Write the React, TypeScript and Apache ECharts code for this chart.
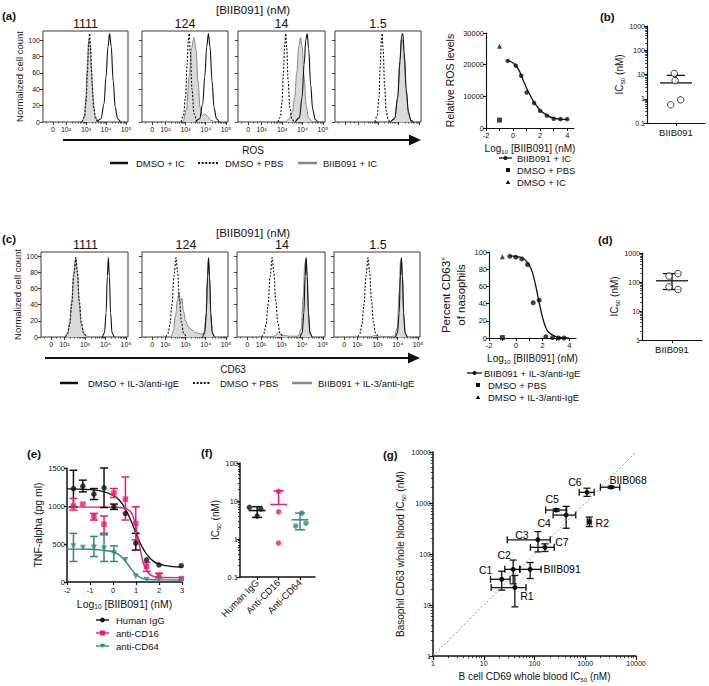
import React, { useEffect, useRef } from "react";
import * as echarts from "echarts";

const FONT = "'Liberation Sans', Arial, Helvetica, sans-serif";
const INK = "#111111";
const PINK = "#ec1c73";
const TEAL = "#2f8c7c";
const GRAY_LINE = "#8b8580";
const GRAY_FILL = "#dadada";

// ---------- (a)/(c) flow histograms; x in biexponential display units (1.35 = 0, 2 = 10², 3 = 10³ …)
const concentrationLabels = ["1111", "124", "14", "1.5"];
const flowTickValues = [1.35, 2, 3, 4, 5];
const flowTickLabels = ["0", "10²", "10³", "10⁴", "10⁵"];
const histYTicks = [0, 20, 40, 60, 80, 100];

const rosDmsoPbs = [
  [[2.8, 0], [2.92, 6], [3.0, 25], [3.07, 60], [3.13, 95], [3.18, 108], [3.23, 90], [3.3, 50], [3.38, 18], [3.48, 4], [3.58, 0]],
  [[2.78, 0], [2.9, 8], [3.0, 30], [3.08, 70], [3.14, 100], [3.18, 108], [3.24, 85], [3.32, 40], [3.42, 10], [3.55, 0]],
  [[2.8, 0], [2.92, 6], [3.0, 25], [3.07, 60], [3.13, 95], [3.18, 108], [3.23, 90], [3.3, 50], [3.38, 18], [3.48, 4], [3.58, 0]],
  [[2.82, 0], [2.94, 8], [3.02, 30], [3.09, 70], [3.14, 100], [3.18, 108], [3.23, 88], [3.3, 45], [3.38, 14], [3.48, 3], [3.56, 0]],
];
const rosBiibIc = [
  [[2.82, 0], [2.93, 8], [3.0, 30], [3.07, 70], [3.14, 100], [3.2, 95], [3.27, 65], [3.35, 30], [3.45, 8], [3.58, 0]],
  [[2.9, 0], [3.05, 15], [3.18, 55], [3.3, 90], [3.42, 103], [3.52, 88], [3.62, 50], [3.72, 18], [3.82, 8], [3.95, 10], [4.08, 7], [4.25, 2], [4.45, 0]],
  [[3.2, 0], [3.35, 4], [3.5, 12], [3.62, 30], [3.72, 60], [3.82, 92], [3.9, 103], [3.98, 92], [4.08, 55], [4.18, 20], [4.3, 5], [4.45, 0]],
  [[3.6, 0], [3.8, 5], [3.95, 30], [4.05, 70], [4.13, 100], [4.2, 100], [4.28, 75], [4.38, 35], [4.48, 10], [4.6, 0]],
];
const rosDmsoIc = [
  [[3.55, 0], [3.75, 4], [3.9, 22], [4.0, 55], [4.1, 92], [4.18, 108], [4.26, 92], [4.36, 50], [4.46, 18], [4.58, 4], [4.72, 0]],
  [[3.5, 0], [3.7, 4], [3.85, 22], [3.95, 55], [4.05, 92], [4.13, 108], [4.21, 92], [4.31, 50], [4.41, 18], [4.53, 4], [4.67, 0]],
  [[3.65, 0], [3.85, 5], [3.98, 30], [4.08, 70], [4.16, 100], [4.23, 108], [4.3, 90], [4.4, 45], [4.5, 15], [4.62, 3], [4.75, 0]],
  [[3.6, 0], [3.8, 4], [3.95, 30], [4.06, 75], [4.14, 105], [4.2, 108], [4.27, 85], [4.37, 40], [4.48, 12], [4.6, 2], [4.72, 0]],
];

const cd63DmsoPbs = [
  [[2.05, 0], [2.15, 4], [2.25, 15], [2.35, 40], [2.45, 75], [2.55, 98], [2.63, 80], [2.72, 45], [2.82, 18], [2.92, 5], [3.05, 0]],
  [[2.03, 0], [2.13, 4], [2.23, 15], [2.33, 40], [2.43, 75], [2.53, 98], [2.61, 80], [2.7, 45], [2.8, 18], [2.9, 5], [3.03, 0]],
  [[2.05, 0], [2.15, 4], [2.25, 15], [2.35, 40], [2.45, 75], [2.55, 98], [2.63, 80], [2.72, 45], [2.82, 18], [2.92, 5], [3.05, 0]],
  [[2.03, 0], [2.13, 4], [2.23, 15], [2.33, 40], [2.43, 75], [2.53, 98], [2.61, 80], [2.7, 45], [2.8, 18], [2.9, 5], [3.03, 0]],
];
const cd63BiibIge = [
  [[2.05, 0], [2.15, 5], [2.25, 18], [2.35, 45], [2.45, 80], [2.55, 98], [2.63, 78], [2.72, 40], [2.82, 15], [2.95, 4], [3.1, 0]],
  [[2.3, 0], [2.4, 8], [2.5, 25], [2.6, 45], [2.68, 55], [2.75, 42], [2.82, 48], [2.9, 32], [3.0, 20], [3.15, 12], [3.35, 8], [3.55, 5], [3.75, 4], [3.9, 4], [4.0, 20], [4.07, 65], [4.13, 95], [4.19, 70], [4.26, 20], [4.35, 3], [4.45, 0]],
  [[2.6, 0], [2.72, 2], [2.82, 5], [2.88, 6], [2.95, 4], [3.1, 2], [3.4, 1], [3.8, 1], [3.95, 10], [4.05, 50], [4.12, 90], [4.18, 97], [4.24, 75], [4.31, 25], [4.39, 4], [4.48, 0]],
  [[2.6, 0], [2.75, 1], [2.86, 2], [3.0, 1], [3.5, 0.5], [3.85, 1], [3.98, 12], [4.07, 55], [4.13, 92], [4.18, 97], [4.24, 72], [4.31, 22], [4.39, 3], [4.48, 0]],
];
const cd63DmsoIge = [
  [[3.85, 0], [3.95, 5], [4.03, 30], [4.09, 75], [4.14, 98], [4.19, 75], [4.25, 30], [4.32, 5], [4.42, 0]],
  [[3.85, 0], [3.95, 5], [4.03, 30], [4.09, 75], [4.14, 98], [4.19, 75], [4.25, 30], [4.32, 5], [4.42, 0]],
  [[3.9, 0], [4.0, 5], [4.08, 30], [4.14, 75], [4.19, 98], [4.24, 75], [4.3, 30], [4.37, 5], [4.47, 0]],
  [[3.89, 0], [3.99, 5], [4.07, 30], [4.13, 75], [4.18, 98], [4.23, 75], [4.29, 30], [4.36, 5], [4.46, 0]],
];

// ---------- (a) right: ROS dose response
const rosDoseLog = [-0.4, 0.2, 0.6, 1.0, 1.55, 2.0, 2.5, 3.0, 3.5, 4.0];
const rosDoseValues = [21200, 19700, 16500, 11200, 7900, 5400, 3900, 2900, 2800, 2800];
const rosFitCurve = [[-0.4, 21300], [0, 20500], [0.4, 18500], [0.8, 14500], [1.2, 10800], [1.6, 7800], [2.0, 5600], [2.5, 4000], [3, 3100], [3.5, 2800], [4, 2700]];
const rosPbsPoint = [[-1, 2500]];
const rosIcPoint = [[-1, 25800]];

// ---------- (b) ROS IC50
const rosIc50 = [11, 5.6, 0.56, 0.9];
const rosIc50Jitter = [-0.06, -0.03, -0.18, 0.16];
const rosIc50Mean = 4.5;
const rosIc50SdHigh = 9.2;

// ---------- (c) right: CD63 dose response
const cd63DoseLog = [-0.45, 0.0, 0.45, 0.88, 1.3, 1.75, 2.25, 2.75, 3.2, 3.6];
const cd63DoseValues = [95, 94, 92, 85.5, 41, 44, 1.5, 0.5, 0, 0];
const cd63FitCurve = [[-0.45, 95.5], [0, 95], [0.5, 93], [0.75, 90], [1.0, 85], [1.25, 76], [1.5, 60], [1.75, 41], [2.0, 24], [2.25, 12], [2.5, 6], [3.0, 1.5], [3.5, 0.3], [4, 0]];
const cd63PbsPoint = [[-1, 0.5]];
const cd63IgePoint = [[-1, 94.5]];

// ---------- (d) CD63 IC50
const cd63Ic50 = [160, 195, 68, 55];
const cd63Ic50Jitter = [-0.1, 0.2, -0.1, 0.2];
const cd63Ic50Mean = 110;
const cd63Ic50Sd = [55, 195];

// ---------- (e) TNF-alpha
const tnfLogDose = [-1.72, -1.31, -0.83, -0.39, 0.04, 0.54, 0.99, 1.46, 2.0, 2.97];
const tnfHumanIgG = [1230, 1260, 1155, 1240, 990, 900, 510, 292, 225, 215];
const tnfHumanIgGLow = [990, 1185, 1085, 980, 955, null, 420, null, null, null];
const tnfHumanIgGHigh = [1470, 1340, 1230, 1500, 1025, null, 640, null, null, null];
const tnfAntiCD16 = [1000, 1025, 860, 760, 1170, 1090, 770, 205, 87, 45];
const tnfAntiCD16Low = [946, null, 815, 641, 1112, 815, 555, 140, 55, null];
const tnfAntiCD16High = [1100, null, 903, 868, 1230, 1382, 990, 257, 115, null];
const tnfAntiCD64 = [470, 450, 455, 440, 380, 290, 75, 30, 28, 25];
const tnfAntiCD64Low = [270, null, 335, 270, 270, null, null, null, null, null];
const tnfAntiCD64High = [640, null, 600, 620, 475, null, null, null, null, null];
const tnfFitHumanIgG = [[-2, 1225], [-1.5, 1222], [-1, 1215], [-0.5, 1195], [0, 1140], [0.3, 1070], [0.5, 980], [0.75, 830], [1.0, 640], [1.25, 470], [1.5, 350], [1.75, 275], [2.0, 235], [2.5, 205], [3, 198]];
const tnfFitAntiCD16 = [[-2, 985], [-1, 985], [0, 983], [0.5, 970], [0.75, 930], [0.9, 840], [1.0, 720], [1.1, 560], [1.2, 400], [1.3, 270], [1.45, 160], [1.6, 100], [1.8, 70], [2.2, 60], [3, 58]];
const tnfFitAntiCD64 = [[-2, 432], [-1, 430], [-0.5, 420], [0, 395], [0.25, 360], [0.5, 290], [0.7, 210], [0.9, 130], [1.1, 75], [1.3, 45], [1.6, 32], [2, 28], [3, 27]];

// ---------- (f) IC50 by blocking antibody
const fCategories = ["Human IgG", "Anti-CD16", "Anti-CD64"];
const fHumanIgG = [6.8, 6.2, 4.0];
const fAntiCD16 = [18, 5.2, 0.78];
const fAntiCD64 = [2.2, 2.6, 4.8];
const fMeans = [5.6, 8.1, 3.2];
const fSdLow = [3.7, null, 1.75];
const fSdHigh = [7.1, 18.5, 4.8];
const fJitter = [[-0.36, 0.17, 0.0], [0, 0, 0], [-0.2, 0.28, 0.08]];

// ---------- (g) whole blood IC50 comparison
const gNames = ["C1", "C2", "R1", "BIIB091", "C3", "C7", "C4", "C5", "C6", "BIIB068", "R2"];
const gBcell = [22.6, 38, 41, 82, 117, 161, 420, 268, 1080, 3230, 1200];
const gBcellLow = [13.6, 26, 14, 51, 29, 83, 233, 166, 760, 1990, 1100];
const gBcellHigh = [33, 52, 68, 135, 205, 245, 650, 430, 1500, 4780, 1300];
const gBasophil = [32, 50, 22, 50, 190, 135, 580, 727, 1620, 2040, 430];
const gBasophilLow = [19.6, 26, 9.2, 33, 110, 112, 320, 690, 1350, 1950, 345];
const gBasophilHigh = [46, 76, 38, 68, 275, 158, 860, 770, 1950, 2140, 530];
const gLabelOffsets = [[-16, -9], [-9, -14], [12, 8], [32, 0], [-16, -5], [17, -5], [-22, 8], [-4, -11], [-12, -10], [17, -7], [13, 1]];

// ---------------------------------------------------------------------------
function buildOption() {
  const grid: any[] = [];
  const xAxis: any[] = [];
  const yAxis: any[] = [];
  const series: any[] = [];
  const graphic: any[] = [];

  const lbl = (size: number, extra: any = {}) => ({ fontSize: size, fontFamily: FONT, color: INK, ...extra });
  const addGrid = (left: number, top: number, width: number, height: number, extra: any = {}) => {
    grid.push({ left, top, width, height, containLabel: false, outerBoundsMode: "none", ...extra });
    return grid.length - 1;
  };
  const addX = (cfg: any) => { xAxis.push({ splitLine: { show: false }, ...cfg }); return xAxis.length - 1; };
  const addY = (cfg: any) => { yAxis.push({ splitLine: { show: false }, ...cfg }); return yAxis.length - 1; };
  const nameStyle = (size: number) => ({ fontSize: size, fontFamily: FONT, color: INK, rich: { sub: { fontSize: size * 0.62, fontFamily: FONT, color: INK, padding: [size * 0.5, 0, 0, 0] } } });
  const axisLine = (w = 1) => ({ show: true, onZero: false, lineStyle: { color: INK, width: w } });
  const numFmt = (v: number) => `${+(+v).toPrecision(6)}`;

  const logMinorPositions = (lo: number, hi: number) => {
    const out: number[] = [];
    for (let e = lo; e < hi; e++) for (let m = 2; m <= 9; m++) out.push(e + Math.log10(m));
    return out;
  };

  // Minor tick helper axis drawn on a linear scale in log10 space
  const minorLogAxis = (gi: number, dim: "x" | "y", lo: number, hi: number, len = 2) => {
    const cfg = {
      gridIndex: gi, type: "value", min: lo, max: hi, position: dim === "x" ? "bottom" : "left",
      axisLine: { show: false, onZero: false }, axisLabel: { show: false },
      axisTick: { show: true, length: len, customValues: logMinorPositions(lo, hi), lineStyle: { color: INK, width: 0.8 } },
    };
    return dim === "x" ? addX(cfg) : addY(cfg);
  };

  // ----- text helper
  const text = (s: string, x: number, y: number, size: number, opts: any = {}) => {
    graphic.push({
      type: "text", x, y, silent: true,
      style: { text: s, fill: INK, fontSize: size, fontFamily: FONT, fontWeight: opts.bold ? "bold" : "normal", textAlign: opts.align || "left", textVerticalAlign: "middle", align: opts.align || "left", verticalAlign: "middle" },
    });
  };
  const hline = (x1: number, x2: number, y: number, color: string, width: number, dash?: number[]) => {
    graphic.push({ type: "line", silent: true, shape: { x1, y1: y, x2, y2: y }, style: { stroke: color, lineWidth: width, lineDash: dash || null } });
  };
  const circleMark = (cx: number, cy: number, r: number, color: string) => graphic.push({ type: "circle", silent: true, shape: { cx, cy, r }, style: { fill: color } });
  const squareMark = (cx: number, cy: number, s: number, color: string) => graphic.push({ type: "rect", silent: true, shape: { x: cx - s / 2, y: cy - s / 2, width: s, height: s }, style: { fill: color } });
  const triMark = (cx: number, cy: number, s: number, color: string, down = false) => {
    const h = s * 0.9;
    const pts = down
      ? [[cx - s / 2, cy - h / 2], [cx + s / 2, cy - h / 2], [cx, cy + h / 2]]
      : [[cx - s / 2, cy + h / 2], [cx + s / 2, cy + h / 2], [cx, cy - h / 2]];
    graphic.push({ type: "polygon", silent: true, shape: { points: pts }, style: { fill: color } });
  };
  const arrow = (x1: number, x2: number, y: number) => {
    hline(x1, x2 - 8, y, INK, 2);
    graphic.push({ type: "polygon", silent: true, shape: { points: [[x2 - 12, y - 5.5], [x2, y], [x2 - 12, y + 5.5]] }, style: { fill: INK } });
  };

  // ----- renderers
  const vErr = (color: string, cap: number, lw = 1.3) => (_p: any, api: any) => {
    const x = api.value(0), lo = api.value(1), hi = api.value(2);
    const a = api.coord([x, lo]), b = api.coord([x, hi]);
    const style = { stroke: color, lineWidth: lw, fill: "none" };
    return {
      type: "group", children: [
        { type: "line", shape: { x1: a[0], y1: a[1], x2: b[0], y2: b[1] }, style },
        { type: "line", shape: { x1: a[0] - cap, y1: a[1], x2: a[0] + cap, y2: a[1] }, style },
        { type: "line", shape: { x1: b[0] - cap, y1: b[1], x2: b[0] + cap, y2: b[1] }, style },
      ],
    };
  };
  const meanSd = (color: string, halfMean: number, halfCap: number, lw = 1.3) => (_p: any, api: any) => {
    const x = api.value(0), m = api.value(1), lo = api.value(2), hi = api.value(3);
    const c = api.coord([x, m]);
    const style = { stroke: color, lineWidth: lw, fill: "none" };
    const ch: any[] = [{ type: "line", shape: { x1: c[0] - halfMean, y1: c[1], x2: c[0] + halfMean, y2: c[1] }, style }];
    if (hi > m) {
      const h = api.coord([x, hi]);
      ch.push({ type: "line", shape: { x1: c[0], y1: c[1], x2: h[0], y2: h[1] }, style });
      ch.push({ type: "line", shape: { x1: h[0] - halfCap, y1: h[1], x2: h[0] + halfCap, y2: h[1] }, style });
    }
    if (lo < m && lo > 0) {
      const l = api.coord([x, lo]);
      ch.push({ type: "line", shape: { x1: c[0], y1: c[1], x2: l[0], y2: l[1] }, style });
      ch.push({ type: "line", shape: { x1: l[0] - halfCap, y1: l[1], x2: l[0] + halfCap, y2: l[1] }, style });
    }
    return { type: "group", children: ch };
  };
  const crossErr = (color: string, cap: number, lw = 1.2) => (_p: any, api: any) => {
    const x = api.value(0), y = api.value(1);
    const xl = api.coord([api.value(2), y]), xh = api.coord([api.value(3), y]);
    const yl = api.coord([x, api.value(4)]), yh = api.coord([x, api.value(5)]);
    const style = { stroke: color, lineWidth: lw, fill: "none" };
    return {
      type: "group", children: [
        { type: "line", shape: { x1: xl[0], y1: xl[1], x2: xh[0], y2: xh[1] }, style },
        { type: "line", shape: { x1: xl[0], y1: xl[1] - cap, x2: xl[0], y2: xl[1] + cap }, style },
        { type: "line", shape: { x1: xh[0], y1: xh[1] - cap, x2: xh[0], y2: xh[1] + cap }, style },
        { type: "line", shape: { x1: yl[0], y1: yl[1], x2: yh[0], y2: yh[1] }, style },
        { type: "line", shape: { x1: yl[0] - cap, y1: yl[1], x2: yl[0] + cap, y2: yl[1] }, style },
        { type: "line", shape: { x1: yh[0] - cap, y1: yh[1], x2: yh[0] + cap, y2: yh[1] }, style },
      ],
    };
  };

  // ===================== Histogram rows (a) and (c)
  const flowMinor: number[] = [1.0, 1.6, 1.8];
  for (let d = 2; d < 5; d++) for (let m = 2; m <= 9; m++) flowMinor.push(d + Math.log10(m));

  const flowPanel = (left: number, top: number, width: number, height: number, yMax: number, idx: number, showX: boolean,
    fill: number[][], dotted: number[][], solid: number[][], names: string[]) => {
    const gi = addGrid(left, top, width, height, { show: true, borderColor: "#3a3a3a", borderWidth: 1, backgroundColor: "transparent" });
    const xi = addX({
      gridIndex: gi, type: "value", min: 0.85, max: 5.1, position: "bottom",
      axisLine: { show: false, onZero: false },
      axisTick: { show: true, length: 3, customValues: flowTickValues, lineStyle: { color: INK, width: 0.8 } },
      axisLabel: {
        show: showX, customValues: flowTickValues, margin: 4, ...lbl(7),
        formatter: (v: number) => {
          let best = 0;
          flowTickValues.forEach((t, i) => { if (Math.abs(t - v) < Math.abs(flowTickValues[best] - v)) best = i; });
          return flowTickLabels[best];
        },
      },
    });
    addX({
      gridIndex: gi, type: "value", min: 0.85, max: 5.1, position: "bottom",
      axisLine: { show: false, onZero: false }, axisLabel: { show: false },
      axisTick: { show: true, length: 1.6, customValues: flowMinor, lineStyle: { color: INK, width: 0.6 } },
    });
    const yi = addY({
      gridIndex: gi, type: "value", min: 0, max: yMax, position: "left",
      axisLine: { show: false, onZero: false },
      axisTick: { show: true, length: 3, customValues: histYTicks, lineStyle: { color: INK, width: 0.8 } },
      axisLabel: { show: idx === 0, customValues: histYTicks, margin: 3, ...lbl(7) },
      name: idx === 0 ? "Normalized cell count" : "", nameLocation: "middle", nameGap: 17, nameTextStyle: nameStyle(9.5),
    });
    const common = { type: "line", xAxisIndex: xi, yAxisIndex: yi, showSymbol: false, symbol: "none", smooth: 0.35, smoothMonotone: "x", silent: true };
    series.push({ ...common, name: names[2], data: fill, lineStyle: { color: GRAY_LINE, width: 1 }, areaStyle: { color: GRAY_FILL, opacity: 1 }, z: 2 });
    series.push({ ...common, name: names[1], data: dotted, lineStyle: { color: INK, width: 1.1, type: [2, 1.6] }, z: 3 });
    series.push({ ...common, name: names[0], data: solid, lineStyle: { color: INK, width: 1.1 }, z: 4 });
  };

  const aLefts = [43, 142, 238, 335], aWidths = [85, 86, 87, 86];
  const cLefts = [41, 142, 237, 334], cWidths = [87, 86, 88, 86];
  for (let i = 0; i < 4; i++) {
    flowPanel(aLefts[i], 31, aWidths[i], 91, 111, i, i < 3, rosBiibIc[i], rosDmsoPbs[i], rosDmsoIc[i], ["DMSO + IC", "DMSO + PBS", "BIIB091 + IC"]);
    flowPanel(cLefts[i], 252, cWidths[i], 85, 105, i, true, cd63BiibIge[i], cd63DmsoPbs[i], cd63DmsoIge[i], ["DMSO + IL-3/anti-IgE", "DMSO + PBS", "BIIB091 + IL-3/anti-IgE"]);
    text(concentrationLabels[i], aLefts[i] + aWidths[i] / 2, 24, 12.5, { align: "center" });
    text(concentrationLabels[i], cLefts[i] + cWidths[i] / 2 + 1, 245, 12.5, { align: "center" });
  }

  // ===================== Dose response (a) right / (c) right
  const doseAxes = (gi: number, yMin: number, yMax: number, yTicks: number[], yName: string, yGap: number, yNameSize: number) => {
    const xi = addX({
      gridIndex: gi, type: "value", min: -2, max: 4.5, position: "bottom",
      axisLine: axisLine(1.1),
      axisTick: { show: true, length: 3, customValues: [-2, -1, 0, 1, 2, 3, 4], lineStyle: { color: INK, width: 1 } },
      axisLabel: { customValues: [-2, 0, 2, 4], margin: 3, ...lbl(7.5) },
      name: "Log{sub|10} [BIIB091] (nM)", nameLocation: "middle", nameGap: 15, nameTextStyle: nameStyle(10),
    });
    const yi = addY({
      gridIndex: gi, type: "value", min: yMin, max: yMax, position: "left",
      axisLine: axisLine(1.1),
      axisTick: { show: true, length: 3, customValues: yTicks, lineStyle: { color: INK, width: 1 } },
      axisLabel: { customValues: yTicks, margin: 2, formatter: numFmt, ...lbl(7.5) },
      name: yName, nameLocation: "middle", nameGap: yGap, nameTextStyle: { ...nameStyle(yNameSize), lineHeight: yNameSize + 3 },
    });
    return [xi, yi];
  };

  {
    const gi = addGrid(486, 33, 88, 95);
    const [xi, yi] = doseAxes(gi, 0, 30000, [0, 10000, 20000, 30000], "Relative ROS levels", 29, 10.5);
    series.push({ type: "line", name: "BIIB091 + IC fit", xAxisIndex: xi, yAxisIndex: yi, data: rosFitCurve, smooth: 0.4, showSymbol: false, symbol: "none", lineStyle: { color: INK, width: 1.3 }, silent: true });
    series.push({ type: "scatter", name: "BIIB091 + IC", xAxisIndex: xi, yAxisIndex: yi, data: rosDoseLog.map((x, i) => [x, rosDoseValues[i]]), symbol: "circle", symbolSize: 4.5, itemStyle: { color: INK } });
    series.push({ type: "scatter", name: "DMSO + PBS", xAxisIndex: xi, yAxisIndex: yi, data: rosPbsPoint, symbol: "rect", symbolSize: 5, itemStyle: { color: INK } });
    series.push({ type: "scatter", name: "DMSO + IC", xAxisIndex: xi, yAxisIndex: yi, data: rosIcPoint, symbol: "triangle", symbolSize: 5, itemStyle: { color: INK } });
  }
  {
    const gi = addGrid(489, 252, 87, 86);
    const [xi, yi] = doseAxes(gi, 0, 100, [0, 20, 40, 60, 80, 100], "Percent CD63⁺\nof nasophils", 21, 11.5);
    series.push({ type: "line", name: "BIIB091 + IL-3/anti-IgE fit", xAxisIndex: xi, yAxisIndex: yi, data: cd63FitCurve, smooth: 0.4, showSymbol: false, symbol: "none", lineStyle: { color: INK, width: 1.3 }, silent: true });
    series.push({ type: "scatter", name: "BIIB091 + IL-3/anti-IgE", xAxisIndex: xi, yAxisIndex: yi, data: cd63DoseLog.map((x, i) => [x, cd63DoseValues[i]]), symbol: "circle", symbolSize: 5, itemStyle: { color: INK } });
    series.push({ type: "scatter", name: "DMSO + PBS", xAxisIndex: xi, yAxisIndex: yi, data: cd63PbsPoint, symbol: "rect", symbolSize: 5, itemStyle: { color: INK } });
    series.push({ type: "scatter", name: "DMSO + IL-3/anti-IgE", xAxisIndex: xi, yAxisIndex: yi, data: cd63IgePoint, symbol: "triangle", symbolSize: 5, itemStyle: { color: INK } });
  }

  // ===================== IC50 single-group plots (b), (d)
  const ic50Panel = (left: number, top: number, width: number, height: number, yMin: number, yMax: number,
    values: number[], jitter: number[], mean: number, lo: number, hi: number) => {
    const gi = addGrid(left, top, width, height);
    const xi = addX({
      gridIndex: gi, type: "value", min: -1, max: 1, position: "bottom",
      axisLine: axisLine(1.2),
      axisTick: { show: true, length: 3, customValues: [0], lineStyle: { color: INK } },
      axisLabel: { customValues: [0], formatter: () => "BIIB091", margin: 4, ...lbl(9.5) },
    });
    const yi = addY({
      gridIndex: gi, type: "log", logBase: 10, min: yMin, max: yMax, position: "left",
      axisLine: axisLine(1.2),
      axisTick: { show: true, length: 3, lineStyle: { color: INK } },
      axisLabel: { margin: 2, formatter: numFmt, ...lbl(7) },
      name: "IC{sub|50} (nM)", nameLocation: "middle", nameGap: 22, nameTextStyle: nameStyle(10),
    });
    minorLogAxis(gi, "y", Math.log10(yMin), Math.log10(yMax), 1.8);
    series.push({ type: "custom", name: "mean ± SD", xAxisIndex: xi, yAxisIndex: yi, renderItem: meanSd(INK, 16, 9), data: [[0, mean, lo, hi]], encode: { x: 0, y: 1 }, silent: true, z: 2 });
    series.push({
      type: "scatter", name: "BIIB091", xAxisIndex: xi, yAxisIndex: yi, data: values.map((v, i) => [jitter[i], v]),
      symbol: "circle", symbolSize: 6.5, itemStyle: { color: "#ffffff", borderColor: INK, borderWidth: 1 }, z: 3,
    });
  };
  ic50Panel(647, 26, 58, 97, 0.1, 1000, rosIc50, rosIc50Jitter, rosIc50Mean, rosIc50Mean, rosIc50SdHigh);
  ic50Panel(642, 253, 60, 87, 1, 1000, cd63Ic50, cd63Ic50Jitter, cd63Ic50Mean, cd63Ic50Sd[0], cd63Ic50Sd[1]);

  // ===================== (e) TNF-alpha
  {
    const gi = addGrid(67, 468, 115, 114);
    const xi = addX({
      gridIndex: gi, type: "value", min: -2, max: 3, interval: 1, position: "bottom",
      axisLine: axisLine(1.5), axisTick: { show: true, length: 3, lineStyle: { color: INK, width: 1.2 } },
      axisLabel: { margin: 4, ...lbl(7.5) },
      name: "Log{sub|10} [BIIB091] (nM)", nameLocation: "middle", nameGap: 16, nameTextStyle: nameStyle(10.5),
    });
    const yi = addY({
      gridIndex: gi, type: "value", min: 0, max: 1500, interval: 500, position: "left",
      axisLine: axisLine(1.5), axisTick: { show: true, length: 3, lineStyle: { color: INK, width: 1.2 } },
      axisLabel: { margin: 2, formatter: numFmt, ...lbl(7.5) },
      name: "TNF-alpha (pg ml)", nameLocation: "middle", nameGap: 24, nameTextStyle: nameStyle(10.5),
    });
    const groups = [
      { name: "Human IgG", color: INK, sym: "circle", v: tnfHumanIgG, lo: tnfHumanIgGLow, hi: tnfHumanIgGHigh, fit: tnfFitHumanIgG },
      { name: "anti-CD16", color: PINK, sym: "rect", v: tnfAntiCD16, lo: tnfAntiCD16Low, hi: tnfAntiCD16High, fit: tnfFitAntiCD16 },
      { name: "anti-CD64", color: TEAL, sym: "triangle", v: tnfAntiCD64, lo: tnfAntiCD64Low, hi: tnfAntiCD64High, fit: tnfFitAntiCD64 },
    ];
    groups.forEach((g) => {
      series.push({ type: "line", name: g.name + " fit", xAxisIndex: xi, yAxisIndex: yi, data: g.fit, smooth: 0.4, showSymbol: false, symbol: "none", lineStyle: { color: g.color, width: 1.4 }, silent: true, z: 2 });
      series.push({
        type: "custom", name: g.name + " SD", xAxisIndex: xi, yAxisIndex: yi, renderItem: vErr(g.color, 4, 1.5),
        data: tnfLogDose.map((x, i) => (g.lo[i] == null ? null : [x, g.lo[i], g.hi[i]])).filter((d) => d !== null),
        encode: { x: 0, y: [1, 2] }, silent: true, z: 3,
      });
      series.push({
        type: "scatter", name: g.name, xAxisIndex: xi, yAxisIndex: yi, data: tnfLogDose.map((x, i) => [x, g.v[i]]),
        symbol: g.sym, symbolSize: g.sym === "triangle" ? 6 : 5.5, symbolRotate: g.sym === "triangle" ? 180 : 0,
        itemStyle: { color: g.color }, z: 4,
      });
    });
  }

  // ===================== (f) IC50 per blocking antibody
  {
    const gi = addGrid(240, 463, 75, 114);
    const xi = addX({
      gridIndex: gi, type: "value", min: -0.8, max: 2.7, position: "bottom",
      axisLine: axisLine(1.5),
      axisTick: { show: true, length: 3, customValues: [0, 1, 2], lineStyle: { color: INK, width: 1.2 } },
      axisLabel: { customValues: [0, 1, 2], rotate: 45, margin: 4, formatter: (v: number) => fCategories[Math.round(v)] || "", ...lbl(9.5) },
    });
    const yi = addY({
      gridIndex: gi, type: "log", logBase: 10, min: 0.1, max: 100, position: "left",
      axisLine: axisLine(1.5), axisTick: { show: true, length: 3.5, lineStyle: { color: INK, width: 1.2 } },
      axisLabel: { margin: 2, formatter: numFmt, ...lbl(7.5) },
      name: "IC{sub|50} (nM)", nameLocation: "middle", nameGap: 19, nameTextStyle: nameStyle(10),
    });
    minorLogAxis(gi, "y", -1, 2, 2);
    const sets = [fHumanIgG, fAntiCD16, fAntiCD64];
    const colors = [INK, PINK, TEAL];
    sets.forEach((vals, k) => {
      series.push({
        type: "custom", name: fCategories[k] + " mean", xAxisIndex: xi, yAxisIndex: yi, renderItem: meanSd(colors[k], 8.5, 5, 1.5),
        data: [[k, fMeans[k], fSdLow[k] == null ? fMeans[k] : fSdLow[k], fSdHigh[k]]], encode: { x: 0, y: 1 }, silent: true, z: 2,
      });
      series.push({
        type: "scatter", name: fCategories[k], xAxisIndex: xi, yAxisIndex: yi, data: vals.map((v, i) => [k + fJitter[k][i], v]),
        symbol: "circle", symbolSize: 5.5, itemStyle: { color: colors[k] }, z: 3,
      });
    });
  }

  // ===================== (g) whole blood comparison
  {
    const gi = addGrid(433, 452, 203, 204);
    const xi = addX({
      gridIndex: gi, type: "log", logBase: 10, min: 1, max: 10000, position: "bottom",
      axisLine: axisLine(1.5), axisTick: { show: true, length: 4, lineStyle: { color: INK, width: 1.2 } },
      axisLabel: { margin: 4, formatter: numFmt, ...lbl(7) },
      name: "B cell CD69 whole blood IC{sub|50} (nM)", nameLocation: "middle", nameGap: 15, nameTextStyle: nameStyle(10),
    });
    const yi = addY({
      gridIndex: gi, type: "log", logBase: 10, min: 1, max: 10000, position: "left",
      axisLine: axisLine(1.5), axisTick: { show: true, length: 4, lineStyle: { color: INK, width: 1.2 } },
      axisLabel: { margin: 2, formatter: numFmt, ...lbl(7) },
      name: "Basophil CD63 whole blood IC{sub|50} (nM)", nameLocation: "middle", nameGap: 27, nameTextStyle: nameStyle(10),
    });
    minorLogAxis(gi, "x", 0, 4, 2.2);
    minorLogAxis(gi, "y", 0, 4, 2.2);
    series.push({
      type: "line", name: "identity", xAxisIndex: xi, yAxisIndex: yi, data: [[1, 1], [10000, 10000]], showSymbol: false, symbol: "none",
      lineStyle: { color: "#8a8a8a", width: 0.9, type: [2, 2] }, silent: true, z: 1,
    });
    series.push({
      type: "custom", name: "SD", xAxisIndex: xi, yAxisIndex: yi, renderItem: crossErr(INK, 3.5, 1.3),
      data: gNames.map((_, i) => [gBcell[i], gBasophil[i], gBcellLow[i], gBcellHigh[i], gBasophilLow[i], gBasophilHigh[i]]),
      encode: { x: 0, y: 1 }, silent: true, z: 2,
    });
    const symSize = 5;
    series.push({
      type: "scatter", name: "Compounds", xAxisIndex: xi, yAxisIndex: yi, symbol: "circle", symbolSize: symSize, itemStyle: { color: INK, opacity: 1 }, z: 3,
      labelLayout: { hideOverlap: false },
      data: gNames.map((n, i) => ({
        name: n, value: [gBcell[i], gBasophil[i]],
        label: {
          show: true, formatter: "{b}", align: "center", verticalAlign: "middle",
          position: [symSize / 2 + gLabelOffsets[i][0], symSize / 2 + gLabelOffsets[i][1]],
          fontSize: 10.5, fontFamily: FONT, color: "#000000", opacity: 1, textBorderWidth: 0,
        },
      })),
    });
  }

  // ===================== Texts, arrows and legends
  text("(a)", 2, 16, 11.5, { bold: true });
  text("[BIIB091] (nM)", 253, 10, 11.5, { align: "center" });
  arrow(63, 421, 140);
  text("ROS", 253, 150, 10, { align: "center" });
  hline(110, 128, 163, INK, 2.5); text("DMSO + IC", 136, 163, 9.5);
  hline(198, 218, 163, INK, 2, [2, 1.6]); text("DMSO + PBS", 225, 163, 9.5);
  hline(298, 317, 163, GRAY_LINE, 2.5); text("BIIB091 + IC", 323, 163, 9.5);

  text("(c)", 2, 239, 11.5, { bold: true });
  text("[BIIB091] (nM)", 253, 233, 11.5, { align: "center" });
  arrow(45, 420, 358);
  text("CD63", 233, 369, 10, { align: "center" });
  hline(60, 78, 383, INK, 2.5); text("DMSO + IL-3/anti-IgE", 88, 383, 9.5);
  hline(193, 210, 383, INK, 2, [2, 1.6]); text("DMSO + PBS", 220, 383, 9.5);
  hline(292, 312, 383, GRAY_LINE, 2.5); text("BIIB091 + IL-3/anti-IgE", 318, 383, 9.5);

  // (a) right legend
  hline(499, 512, 158, INK, 1.3); circleMark(505.5, 158, 2, INK); text("BIIB091 + IC", 517, 158, 9.5);
  squareMark(508, 170, 4, INK); text("DMSO + PBS", 517, 170, 9.5);
  triMark(508, 182, 4.5, INK); text("DMSO + IC", 517, 182, 9.5);
  // (c) right legend
  hline(467, 482, 373, INK, 1.3); circleMark(474.5, 373, 2, INK); text("BIIB091 + IL-3/anti-IgE", 484, 373, 9.5);
  squareMark(478, 385, 4, INK); text("DMSO + PBS", 488, 385, 9.5);
  triMark(478, 397, 4.5, INK); text("DMSO + IL-3/anti-IgE", 488, 397, 9.5);

  text("(b)", 600, 17, 11.5, { bold: true });
  text("(d)", 598, 240, 11.5, { bold: true });
  text("(e)", 27, 454, 11.5, { bold: true });
  text("(f)", 201, 453, 11.5, { bold: true });
  text("(g)", 383, 455, 11.5, { bold: true });

  // (e) legend
  hline(96, 109, 620, INK, 1.4); circleMark(102.5, 620, 2.4, INK); text("Human IgG", 116, 620, 9.5);
  hline(96, 109, 633, PINK, 1.4); squareMark(102.5, 633, 5, PINK); text("anti-CD16", 116, 633, 9.5);
  hline(96, 109, 646, TEAL, 1.4); triMark(102.5, 646, 5, TEAL, true); text("anti-CD64", 116, 646, 9.5);

  return {
    animation: false,
    backgroundColor: "#ffffff",
    textStyle: { fontFamily: FONT, color: INK },
    grid, xAxis, yAxis, series, graphic,
  };
}

export default function App() {
  const ref = useRef<HTMLDivElement>(null);
  useEffect(() => {
    if (!ref.current) return;
    const chart = echarts.init(ref.current, null, { renderer: "svg" });
    chart.setOption(buildOption() as any);
    return () => chart.dispose();
  }, []);
  return <div ref={ref} style={{ position: "absolute", left: 0, top: 0, width: 709, height: 686, background: "#fff" }} />;
}
